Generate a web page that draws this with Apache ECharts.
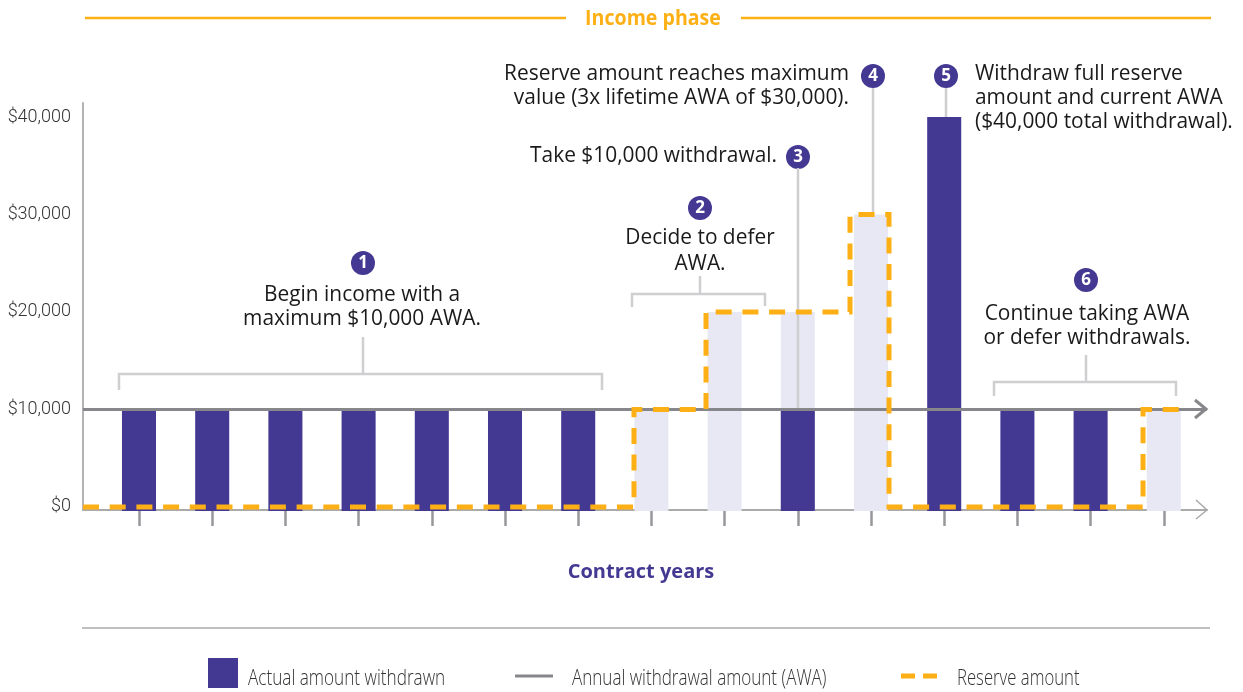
<!DOCTYPE html>
<html>
<head>
<meta charset="utf-8">
<title>Income phase</title>
<script src="https://cdn.jsdelivr.net/npm/echarts@6/dist/echarts.min.js"></script>
<style>
html, body { margin: 0; padding: 0; background: #fff; }
#main { width: 1243px; height: 692px; }
</style>
</head>
<body>
<div id="main"></div>
<script>
// contract years 1..15
var years = [1, 2, 3, 4, 5, 6, 7, 8, 9, 10, 11, 12, 13, 14, 15];
var actualAmount = [10000, 10000, 10000, 10000, 10000, 10000, 10000, 0, 0, 10000, 0, 40000, 10000, 10000, 0];
// light bars: the AWA left in the contract, drawn behind the actual amount
var deferredAmount = [0, 0, 0, 0, 0, 0, 0, 10000, 20000, 20000, 30000, 0, 0, 0, 10000];
// reserve step line, corners given in year units
var reserveX = [0.235, 7.762, 7.762, 8.746, 8.746, 10.713, 10.713, 11.246, 11.246, 14.716, 14.716, 15.303];
var reserveY = [0, 0, 10000, 10000, 20000, 20000, 30000, 30000, 0, 0, 10000, 10000];
var awaX = [0.235, 15.59];
var awaY = [10000, 10000];
var yTicks = [0, 10000, 20000, 30000, 40000];

var PURPLE = '#433993', LIGHT = '#e8e7f4', GOLD = '#fdb015', GRAY = '#87878b', BRACKET = '#cfcfd1';
var TEXT = '#1a1a1a';
var NOTE_FONT = '20.9px "Open Sans"';
var LEGEND_FONT = '300 22px "Open Sans"';

function zip(a, b) {
	return a.map(function (v, i) { return [v, b[i]]; });
}

function barItem(color) {
	return function (params, api) {
		if (!api.value(1)) return null;
		var top = api.coord([api.value(0), api.value(1)]);
		var bottom = params.coordSys.y + params.coordSys.height;
		var w = api.size([1, 0])[0] * 0.465;
		return {
			type: 'rect',
			shape: { x: top[0] - w / 2, y: top[1], width: w, height: bottom - top[1] + 1 },
			style: { fill: color }
		};
	};
}

function line(points, color, width, dash) {
	return {
		type: 'polyline', z: 5,
		shape: { points: points },
		style: { stroke: color, lineWidth: width, fill: null, lineDash: dash || null }
	};
}

function text(str, x, y, align, font, color, sx) {
	return {
		type: 'text', z: 6,
		x: x, y: y, scaleX: sx || 1,
		style: { text: str, x: 0, y: 0, align: align, verticalAlign: 'middle', font: font || NOTE_FONT, fill: color || TEXT }
	};
}

function badge(num, x, y) {
	return {
		type: 'group', z: 7,
		children: [
			{ type: 'circle', shape: { cx: x, cy: y, r: 12 }, style: { fill: PURPLE } },
			{ type: 'text', style: { text: num, x: x, y: y, align: 'center', verticalAlign: 'middle', font: 'bold 17px "Open Sans"', fill: '#fff' } }
		]
	};
}

var notes = [
	// header and bottom rules
	line([[85, 18], [566, 18]], GOLD, 2.5),
	line([[741, 18], [1211, 18]], GOLD, 2.5),
	text('Income phase', 653, 19, 'center', 'bold 22px "Open Sans"', GOLD, 0.89),
	line([[82, 628], [1210, 628]], '#ababab', 1.5),
	text('Contract years', 641, 572.5, 'center', 'bold 20px "Open Sans"', PURPLE),

	// axis arrow heads
	line([[1196, 500], [1207, 510], [1196, 519]], '#aaaaaa', 1.5),
	line([[1195, 400], [1206, 409], [1195, 418]], GRAY, 3),

	// brackets and leaders
	line([[119, 390], [119, 374], [602, 374], [602, 390]], BRACKET, 2.5),
	line([[363, 337], [363, 374]], BRACKET, 2.5),
	line([[632, 307], [632, 294], [765, 294], [765, 306]], BRACKET, 2.5),
	line([[700, 276], [700, 294]], BRACKET, 2.5),
	line([[798, 168], [798, 408]], BRACKET, 2.5),
	line([[873, 88], [873, 212]], BRACKET, 2.5),
	line([[946, 88], [946, 117]], BRACKET, 2.5),
	line([[994, 396], [994, 382], [1176, 382], [1176, 396]], BRACKET, 2.5),
	line([[1086, 355], [1086, 382]], BRACKET, 2.5),

	badge('1', 363, 263),
	badge('2', 700, 208),
	badge('3', 798, 157),
	badge('4', 873, 76),
	badge('5', 946, 76),
	badge('6', 1086, 280),

	text('Begin income with a', 362, 295, 'center'),
	text('maximum $10,000 AWA.', 362, 319, 'center'),
	text('Decide to defer', 700, 238, 'center'),
	text('AWA.', 700, 264, 'center'),
	text('Take $10,000 withdrawal.', 777, 156, 'right'),
	text('Reserve amount reaches maximum', 849, 74, 'right'),
	text('value (3x lifetime AWA of $30,000).', 849, 98, 'right'),
	text('Withdraw full reserve', 975, 74, 'left'),
	text('amount and current AWA', 975, 98, 'left'),
	text('($40,000 total withdrawal).', 975, 122, 'left'),
	text('Continue taking AWA', 1087, 314, 'center'),
	text('or defer withdrawals.', 1087, 338, 'center'),

	// legend
	{ type: 'rect', shape: { x: 208, y: 658, width: 30, height: 30 }, style: { fill: PURPLE } },
	text('Actual amount withdrawn', 248, 679, 'left', LEGEND_FONT, '#333', 0.78),
	line([[515, 676], [553, 676]], GRAY, 3),
	text('Annual withdrawal amount (AWA)', 572, 679, 'left', LEGEND_FONT, '#333', 0.775),
	line([[901, 676], [937, 676]], GOLD, 5, [14, 8]),
	text('Reserve amount', 957, 679, 'left', LEGEND_FONT, '#333', 0.76)
];

var option = {
	animation: false,
	backgroundColor: '#fff',
	grid: { left: 83, right: 36, top: 103, bottom: 182, containLabel: false },
	xAxis: {
		type: 'value',
		min: 0.235,
		max: 15.59,
		splitLine: { show: false },
		axisLine: { show: true, onZero: false, lineStyle: { color: '#aaaaaa', width: 2 } },
		axisTick: { show: true, length: 16, customValues: years, lineStyle: { color: '#98989c', width: 2.5 } },
		axisLabel: { show: false }
	},
	yAxis: {
		type: 'value',
		min: -308,
		max: 41436,
		splitLine: { show: false },
		axisLine: { show: true, onZero: false, lineStyle: { color: '#b3b3b3', width: 2 } },
		axisTick: { show: false },
		axisLabel: {
			customValues: yTicks,
			margin: 12,
			padding: [0, 0, 2, 0],
			fontFamily: 'Roboto',
			fontWeight: 300,
			fontSize: 18,
			color: '#333',
			formatter: function (v) { return '$' + v.toLocaleString('en-US'); }
		}
	},
	series: [
		{
			name: 'Deferred AWA', type: 'custom', z: 2, clip: false,
			renderItem: barItem(LIGHT),
			data: zip(years, deferredAmount)
		},
		{
			name: 'Actual amount withdrawn', type: 'custom', z: 3, clip: false,
			renderItem: barItem(PURPLE),
			data: zip(years, actualAmount)
		},
		{
			name: 'Annual withdrawal amount (AWA)', type: 'line', z: 4,
			symbol: 'none',
			lineStyle: { color: GRAY, width: 3 },
			data: zip(awaX, awaY)
		},
		{
			name: 'Reserve amount', type: 'line', z: 5, clip: false,
			symbol: 'none',
			lineStyle: { color: GOLD, width: 5, type: [16, 10.7], join: 'miter', cap: 'butt' },
			data: zip(reserveX, reserveY)
		}
	],
	graphic: notes
};

var myChart = echarts.init(document.getElementById('main'));
myChart.setOption(option);
</script>
</body>
</html>
